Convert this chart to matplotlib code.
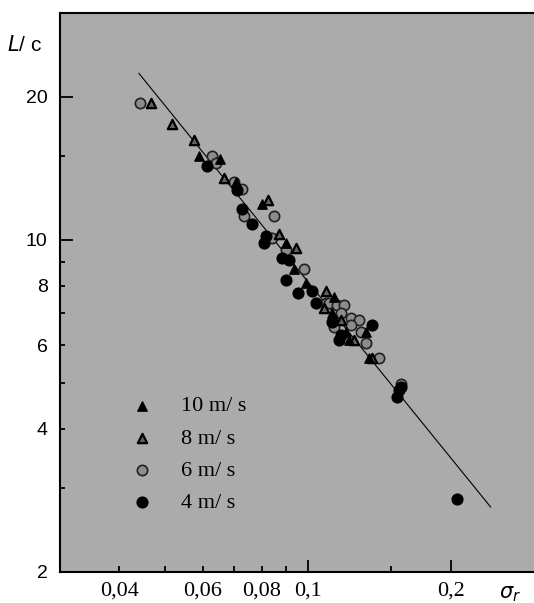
import matplotlib
matplotlib.use("Agg")
import matplotlib.pyplot as plt
from matplotlib.ticker import FixedLocator, FixedFormatter, NullFormatter

# 10 m/s (solid triangles)
v10_x = [0.0590, 0.0653, 0.0705, 0.0800, 0.0899, 0.0934, 0.0990, 0.1134,
         0.1123, 0.1202, 0.1328, 0.1220, 0.1344]
v10_y = [15.0, 14.8, 13.2, 11.9, 9.85, 8.70, 8.11, 7.57,
         7.02, 6.39, 6.39, 6.14, 5.64]

# 8 m/s (triangles with light centre)
v8_x = [0.0467, 0.0517, 0.0576, 0.0665, 0.0826, 0.0869, 0.0943, 0.1094,
        0.1080, 0.1176, 0.1250, 0.1364]
v8_y = [19.4, 17.5, 16.2, 13.5, 12.1, 10.3, 9.63, 7.82,
        7.17, 6.77, 6.14, 5.64]

# 6 m/s (grey circles)
v6_x = [0.0443, 0.0628, 0.0640, 0.0698, 0.0726, 0.0733, 0.0848, 0.0840,
        0.0899, 0.0981, 0.1094, 0.1107, 0.1151, 0.1190, 0.1176, 0.1232,
        0.1280, 0.1134, 0.1232, 0.1293, 0.1328, 0.1411, 0.1573]
v6_y = [19.4, 15.0, 14.5, 13.2, 12.8, 11.2, 11.2, 10.1,
        9.50, 8.70, 7.37, 7.37, 7.28, 7.28, 7.02, 6.83,
        6.77, 6.54, 6.61, 6.39, 6.06, 5.64, 4.98]

# 4 m/s (black circles)
v4_x = [0.0613, 0.0709, 0.0726, 0.0762, 0.0816, 0.0808, 0.0882, 0.0912,
        0.0899, 0.0955, 0.1020, 0.1042, 0.1123, 0.1176, 0.1162, 0.1364,
        0.1554, 0.1540, 0.1573, 0.2059]
v4_y = [14.3, 12.7, 11.6, 10.8, 10.2, 9.85, 9.14, 9.05,
        8.21, 7.73, 7.82, 7.37, 6.70, 6.29, 6.14, 6.61,
        4.82, 4.66, 4.89, 2.85]

# fitted power law
fit_x = [0.044, 0.243]
fit_y = [22.4, 2.74]

x_ticks = [0.04, 0.06, 0.08, 0.1, 0.2]
x_ticklabels = ["0,04", "0,06", "0,08", "0,1", "0,2"]
x_minor = [0.05, 0.07, 0.09, 0.15]
y_ticks = [2, 4, 6, 8, 10, 20]
y_ticklabels = ["2", "4", "6", "8", "10", "20"]
y_minor = [3, 5, 7, 9, 15]

sans = ["Liberation Sans", "DejaVu Sans"]
serif = ["Liberation Serif", "DejaVu Serif"]

fig = plt.figure(figsize=(5.34, 6.03), dpi=100)
ax = fig.add_axes([60 / 534, 31 / 603, 474 / 534, 559 / 603])
ax.set_facecolor("#ababab")

ax.set_xscale("log")
ax.set_yscale("log")
ax.set_xlim(0.03, 0.3)
ax.set_ylim(2, 30)

ax.plot(fit_x, fit_y, color="black", lw=0.8, zorder=2)

s6 = ax.scatter(v6_x, v6_y, s=55, marker="o", facecolor="#8c8c8c",
                edgecolor="#202020", linewidth=1.2, zorder=3)
s4 = ax.scatter(v4_x, v4_y, s=60, marker="o", color="black", zorder=3)
s8 = ax.scatter(v8_x, v8_y, s=45, marker="^", facecolor="#606060",
                edgecolor="black", linewidth=1.6, zorder=4)
s10 = ax.scatter(v10_x, v10_y, s=45, marker="^", color="black", zorder=4)

leg = ax.legend([s10, s8, s6, s4], ["10 m/ s", "8 m/ s", "6 m/ s", "4 m/ s"],
                loc="upper left", bbox_to_anchor=(0.102, 0.335), frameon=False,
                prop={"family": serif, "size": 16}, handletextpad=0.75,
                labelspacing=0.52, scatterpoints=1, borderpad=0)

ax.spines["right"].set_visible(False)
for side in ["left", "bottom", "top"]:
    ax.spines[side].set_linewidth(1.5)

ax.xaxis.set_major_locator(FixedLocator(x_ticks))
ax.xaxis.set_major_formatter(FixedFormatter(x_ticklabels))
ax.xaxis.set_minor_locator(FixedLocator(x_minor))
ax.xaxis.set_minor_formatter(NullFormatter())
ax.yaxis.set_major_locator(FixedLocator(y_ticks))
ax.yaxis.set_major_formatter(FixedFormatter(y_ticklabels))
ax.yaxis.set_minor_locator(FixedLocator(y_minor))
ax.yaxis.set_minor_formatter(NullFormatter())

ax.tick_params(axis="both", which="both", direction="in", width=1.3,
               top=False, right=False)
ax.tick_params(axis="x", which="both", length=4.5, pad=7, labelsize=16)
ax.tick_params(axis="y", which="both", length=3.8, pad=9, labelsize=14)
for lab in ax.get_xticklabels():
    lab.set_family(serif)
for lab in ax.get_yticklabels():
    lab.set_family(sans)

# longer ticks at decade marks
for t, v in zip(ax.xaxis.get_major_ticks(), x_ticks):
    if v in (0.1, 0.2):
        t.tick1line.set_markersize(9)
for t, v in zip(ax.yaxis.get_major_ticks(), y_ticks):
    if v in (10, 20):
        t.tick1line.set_markersize(9.5)

fig.text(25 / 534, 1 - 45 / 603, "$\\it{L}$/ c", fontsize=15, family=sans,
         ha="center", va="center")
fig.text(510 / 534, 1 - 594 / 603, "$\\sigma_r$", fontsize=15,
         ha="center", va="center")

fig.savefig("out.png", dpi=100)
